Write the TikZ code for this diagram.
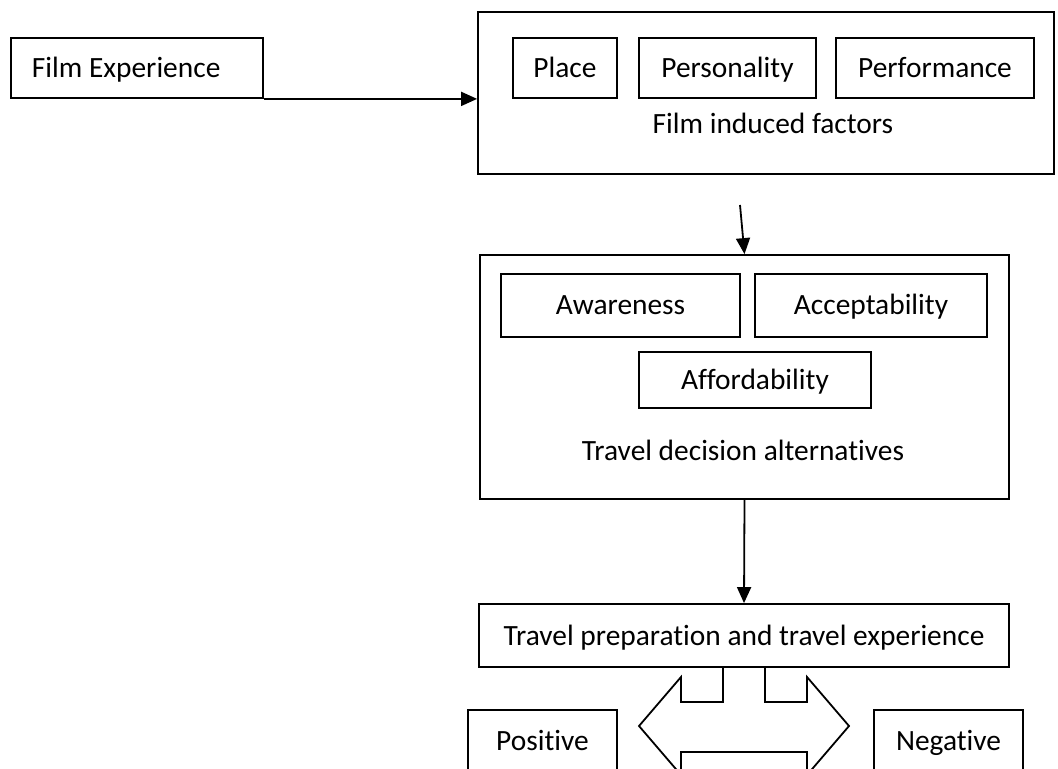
\documentclass[tikz,border=0pt]{standalone}
\usepackage{fontspec}
\setmainfont{Carlito}[Ligatures={NoCommon}]
\usetikzlibrary{arrows.meta}

\begin{document}
\begin{tikzpicture}[x=0.5pt,y=-0.5pt,font=\fontsize{14.7}{18}\selectfont]

	\tikzstyle{frame}=[fill=white,draw=black,line width=0.9pt,
		inner sep=0pt,align=center,text height=9.5pt,text depth=0pt]
	\tikzstyle{factor}=[frame,minimum height=30pt]
	\tikzstyle{flow}=[draw=black,line width=0.9pt,
		-{Triangle[length=8pt,width=7pt]}]

	\useasboundingbox (0,0) rectangle (1058,769);
	\clip (0,0) rectangle (1058,769);

	% film and its factors
	\node[frame,minimum width=126pt,minimum height=30pt,
		text width=105pt,align=flush left]			(film)		at (137,68)	{Film Experience};
	\node[frame,minimum width=288pt,minimum height=81pt]	(induced)	at (766,93)	{};
	\node[factor,minimum width=52pt]			(place)		at (565,68)	{Place};
	\node[factor,minimum width=88.5pt]			(person)	at (727.5,68)	{Personality};
	\node[factor,minimum width=99pt]			(perform)	at (935,68)	{Performance};
	\node						(inducedlbl)	at (773,123)	{Film induced factors};

	% decision alternatives
	\node[frame,minimum width=264.5pt,minimum height=122pt]	(decision)	at (744.5,377)	{};
	\node[frame,minimum width=119.5pt,minimum height=31.5pt]	(aware)		at (620.5,305.5)	{Awareness};
	\node[frame,minimum width=116pt,minimum height=31.5pt]	(accept)	at (871,305.5)	{Acceptability};
	\node[frame,minimum width=116pt,minimum height=28pt]	(afford)	at (755,380)	{Affordability};
	\node						(decisionlbl)	at (743,450)	{Travel decision alternatives};

	% travel and outcome
	\node[frame,minimum width=265pt,minimum height=31.5pt]	(prep)		at (744,635.5)	{Travel preparation and travel experience};
	\node[frame,minimum width=74.5pt,minimum height=31pt]	(positive)	at (542.5,741)	{Positive};
	\node[frame,minimum width=74.5pt,minimum height=31pt]	(negative)	at (948.5,741)	{Negative};

	\coordinate (start) at (740,205);

	\draw[flow] (film.south east) -- (film.south east -| induced.west);
	\draw[flow] (start) -- (decision.north);
	\draw[flow] (decision.south) -- (prep.north);

	% double arrow under the travel box
	\draw[line width=0.9pt,line join=miter]
		(723,667) -- (723,702) -- (681,702) -- (681,677) -- (639,726) -- (681,775)
		-- (681,752) -- (807,752) -- (807,775) -- (849,726) -- (807,677)
		-- (807,702) -- (765,702) -- (765,667);

\end{tikzpicture}
\end{document}
